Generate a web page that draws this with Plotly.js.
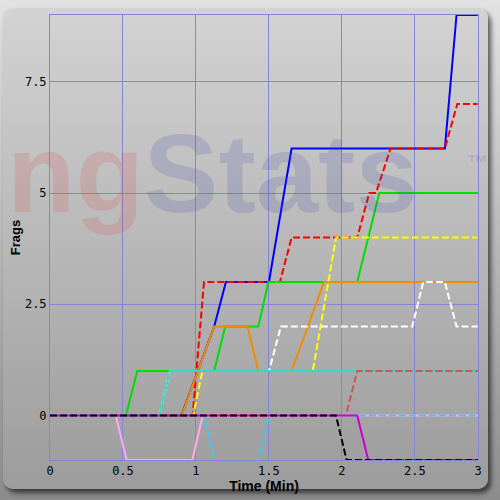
<!DOCTYPE html>
<html>
<head>
<meta charset="utf-8">
<script src="https://cdn.plot.ly/plotly-3.0.1.min.js"></script>
<style>
  html, body { margin: 0; padding: 0; background: #c8c8c8; }
  #frame { position: relative; width: 500px; height: 500px; overflow: hidden;
           background: linear-gradient(#e2e2e2, #8c8c8c); }
  #panel { position: absolute; left: 3px; top: 8px; width: 485px; height: 481px;
           border-radius: 10px; background: linear-gradient(#d3d3d3, #9c9c9c);
           box-shadow: 3px 4px 5px rgba(0,0,0,0.6); }
  #chart { position: absolute; left: 0; top: 0; width: 500px; height: 500px; }
</style>
</head>
<body>
<div id="frame"><div id="panel"></div><div id="chart"></div></div>
<script>
// Time (min) / frags per player series
const blueX = [0, 0.90, 1.125, 1.205, 1.50, 1.655, 2.705, 2.785, 2.93];
const blueY = [0, 0, 2, 3, 3, 6, 6, 9, 9];
const redX = [0, 0.977, 1.055, 1.575, 1.655, 2.105, 2.187, 2.233, 2.333, 2.705, 2.79, 2.93];
const redY = [0, 0, 3, 3, 4, 4, 5, 5, 6, 6, 7, 7];
const greenX = [0, 0.52, 0.598, 1.125, 1.20, 1.427, 1.496, 2.105, 2.256, 2.93];
const greenY = [0, 0, 1, 1, 2, 2, 3, 3, 5, 5];
const orangeX = [0, 0.902, 1.125, 1.354, 1.427, 1.655, 1.877, 2.93];
const orangeY = [0, 0, 2, 2, 1, 1, 3, 3];
const yellowX = [0, 0.98, 1.045, 1.80, 1.96, 2.93];
const yellowY = [0, 0, 1, 1, 4, 4];
const whiteX = [0, 0.749, 0.822, 1.50, 1.582, 2.482, 2.557, 2.705, 2.785, 2.93];
const whiteY = [0, 0, 1, 1, 2, 2, 3, 3, 2, 2];
const cyanX = [0, 0.749, 0.822, 2.93];
const cyanY = [0, 0, 1, 1];
const indianRedX = [0, 2.027, 2.105, 2.93];
const indianRedY = [0, 0, 1, 1];
const pinkX = [0, 0.45, 0.525, 0.975, 1.046, 2.93];
const pinkY = [0, 0, -1, -1, 0, 0];
const skyX = [0, 1.055, 1.125, 1.432, 1.50, 2.93];
const skyY = [0, 0, -1, -1, 0, 0];
const magentaX = [0, 2.105, 2.18, 2.93];
const magentaY = [0, 0, -1, -1];
const blackX = [0, 1.959, 2.032, 2.93];
const blackY = [0, 0, -1, -1];

const xTickVals = [0, 0.5, 1, 1.5, 2, 2.5, 2.932];
const xTickText = ['0', '0.5', '1', '1.5', '2', '2.5', '3'];
const yTickVals = [0, 2.5, 5, 7.5];
const yTickText = ['0', '2.5', '5', '7.5'];

const DASH = '7px,3px';
function tr(x, y, color, dashed) {
  return { x: x, y: y, type: 'scatter', mode: 'lines',
           line: { color: color, width: 2, dash: dashed ? DASH : 'solid' },
           hoverinfo: 'skip', showlegend: false };
}

const data = [
  tr(blueX, blueY, '#0000ff', false),
  tr(redX, redY, '#ff0000', true),
  tr(greenX, greenY, '#00dd00', false),
  tr(orangeX, orangeY, '#f08c00', false),
  tr(yellowX, yellowY, '#ffff00', true),
  tr(whiteX, whiteY, '#ffffff', true),
  tr(cyanX, cyanY, '#33d9c8', false),
  tr(indianRedX, indianRedY, '#cc5555', true),
  tr(pinkX, pinkY, '#ffa8f0', false),
  tr(skyX, skyY, '#40c8f0', true),
  tr(magentaX, magentaY, '#cc00cc', false),
  tr(blackX, blackY, '#000000', true)
];

const gridC = '#8585d6';
const tickFont = { family: 'DejaVu Sans Mono', size: 12, color: '#000' };

const layout = {
  width: 500, height: 500,
  margin: { l: 50, r: 22, t: 15, b: 40, pad: 0 },
  paper_bgcolor: 'rgba(0,0,0,0)',
  plot_bgcolor: 'rgba(0,0,0,0)',
  xaxis: {
    range: [0, 2.932], tickvals: xTickVals, ticktext: xTickText,
    showgrid: true, gridcolor: gridC, gridwidth: 1, zeroline: false,
    showline: true, mirror: true, linecolor: gridC, linewidth: 1,
    ticks: '', tickfont: tickFont, fixedrange: true,
    title: { text: 'Time (Min)', standoff: 2,
             font: { family: 'Liberation Sans', size: 14, weight: 'bold', color: '#000' } }
  },
  yaxis: {
    range: [-1, 9], tickvals: yTickVals, ticktext: yTickText,
    showgrid: true, gridcolor: gridC, gridwidth: 1, zeroline: false,
    showline: true, mirror: true, linecolor: gridC, linewidth: 1,
    ticks: '', tickfont: tickFont, fixedrange: true,
    title: { text: 'Frags', standoff: 1,
             font: { family: 'Liberation Sans', size: 13, weight: 'bold', color: '#000' } }
  },
  annotations: [
    { xref: 'paper', yref: 'paper', x: -0.105, y: 0.643, xanchor: 'left', yanchor: 'middle',
      showarrow: false,
      text: '<b><span style="color:rgba(215,70,70,0.18)">ng</span><span style="color:rgba(70,70,175,0.18)">Stats</span></b>',
      font: { family: 'Liberation Sans', size: 112 } },
    { xref: 'paper', yref: 'paper', x: 1.0, y: 0.669, xanchor: 'center', yanchor: 'middle',
      showarrow: false, text: '<b>™</b>',
      font: { family: 'Liberation Sans', size: 22, color: 'rgba(70,70,175,0.18)' } }
  ]
};

Plotly.newPlot('chart', data, layout, { displayModeBar: false, staticPlot: true });
</script>
</body>
</html>
